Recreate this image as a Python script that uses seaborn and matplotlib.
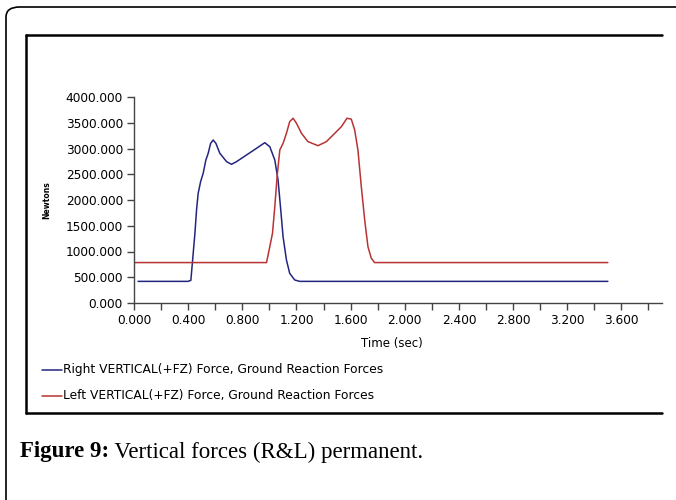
import numpy as np
import pandas as pd
import matplotlib
matplotlib.use("Agg")
import matplotlib.pyplot as plt
import seaborn as sns
from matplotlib.patches import FancyBboxPatch
from matplotlib.lines import Line2D

# ---- data ----
right_time = [0.03, 0.40, 0.420, 0.433, 0.450, 0.462, 0.474, 0.492, 0.511, 0.531,
              0.548, 0.566, 0.585, 0.605, 0.634, 0.684, 0.720, 0.757, 0.831, 0.905,
              0.966, 1.003, 1.040, 1.064, 1.084, 1.101, 1.126, 1.150, 1.187, 1.224,
              3.50]
right_force = [420, 420, 440, 835, 1354, 1806, 2130, 2356, 2519, 2777,
               2907, 3100, 3165, 3100, 2907, 2744, 2693, 2744, 2874, 3004,
               3113, 3035, 2777, 2389, 1806, 1289, 835, 577, 447, 420,
               420]
left_time = [0.0, 0.979, 1.003, 1.023, 1.040, 1.057, 1.077, 1.101, 1.126, 1.150,
             1.175, 1.200, 1.237, 1.285, 1.359, 1.421, 1.495, 1.532, 1.573, 1.605,
             1.630, 1.654, 1.679, 1.704, 1.728, 1.753, 1.777, 3.50]
left_force = [785, 785, 1093, 1354, 1870, 2453, 2971, 3100, 3295, 3521,
              3587, 3490, 3295, 3133, 3055, 3133, 3327, 3424, 3587, 3570,
              3360, 2971, 2259, 1612, 1093, 868, 785, 785]
series_names = ["Right VERTICAL(+FZ) Force, Ground Reaction Forces",
                "Left VERTICAL(+FZ) Force, Ground Reaction Forces"]
y_ticks = [0, 500, 1000, 1500, 2000, 2500, 3000, 3500, 4000]
x_ticks = [round(0.2 * i, 1) for i in range(20)]
x_label_values = [0.0, 0.4, 0.8, 1.2, 1.6, 2.0, 2.4, 2.8, 3.2, 3.6]
caption_bold = "Figure 9:"
caption_rest = " Vertical forces (R&L) permanent."

df = pd.concat([
    pd.DataFrame({"time": right_time, "force": right_force, "series": series_names[0]}),
    pd.DataFrame({"time": left_time, "force": left_force, "series": series_names[1]}),
])

sns.set_theme(style="white")
plt.rcParams["font.family"] = ["DejaVu Sans"]
plt.rcParams["text.color"] = "black"

W, H = 676, 500
fig = plt.figure(figsize=(W / 100, H / 100), dpi=100)

def fx(x):
    return x / W

def fy(y):
    return 1 - y / H

# frames
outer = FancyBboxPatch((fx(6), fy(560)), fx(720) - fx(6), fy(7) - fy(560),
                       boxstyle="round,pad=0,rounding_size=0.02",
                       transform=fig.transFigure, fill=False, ec="black", lw=1.2)
fig.patches.append(outer)
for xs, ys in [([26, 662], [35, 35]), ([26, 26], [35, 413]), ([26, 662], [413, 413])]:
    fig.add_artist(Line2D([fx(v) for v in xs], [fy(v) for v in ys],
                          transform=fig.transFigure, color="black", lw=1.8))

ax = fig.add_axes([fx(134), fy(303), fx(662) - fx(134), fy(97) - fy(303)])
palette = {series_names[0]: "#252580", series_names[1]: "#b83333"}
sns.lineplot(data=df, x="time", y="force", hue="series", palette=palette,
             ax=ax, lw=1.1, legend=False, estimator=None, sort=False)

ax.set_xlim(0, 3.9)
ax.set_ylim(0, 4000)
ax.set_xticks(x_ticks)
ax.set_xticklabels([f"{v:.3f}" if any(abs(v - l) < 1e-6 for l in x_label_values) else ""
                    for v in x_ticks])
ax.set_yticks(y_ticks)
ax.set_yticklabels([f"{v:.3f}" for v in y_ticks])
ax.set_xlabel("")
ax.set_ylabel("")
for s in ["top", "right"]:
    ax.spines[s].set_visible(False)
for s in ["left", "bottom"]:
    ax.spines[s].set_color("#444444")
    ax.spines[s].set_linewidth(1.0)
ax.tick_params(axis="both", direction="out", length=5, width=1.0, color="#444444",
               labelsize=8.7, labelcolor="black", bottom=True, left=True)
ax.tick_params(axis="x", pad=3)
ax.tick_params(axis="y", pad=3)

fig.text(fx(392), fy(344), "Time (sec)", ha="center", va="center", fontsize=8.5)
fig.text(fx(47), fy(200), "Newtons", ha="center", va="center", rotation=90,
         fontsize=5.5, fontweight="bold")

# legend
for i, (name, col) in enumerate(zip(series_names, [palette[series_names[0]], palette[series_names[1]]])):
    yy = 370 + 26 * i
    fig.add_artist(Line2D([fx(42), fx(62)], [fy(yy), fy(yy)], transform=fig.transFigure,
                          color=col, lw=1.1))
    fig.text(fx(63), fy(yy), name, ha="left", va="center", fontsize=8.8)

# caption
t1 = fig.text(fx(20), fy(452), caption_bold, ha="left", va="center", fontsize=16.5,
              fontweight="bold", family="Liberation Serif")
fig.canvas.draw()
bb = t1.get_window_extent()
fig.text(bb.x1 / W, fy(452), caption_rest, ha="left", va="center", fontsize=16.5,
         family="Liberation Serif")

fig.savefig("out.png", dpi=100)
